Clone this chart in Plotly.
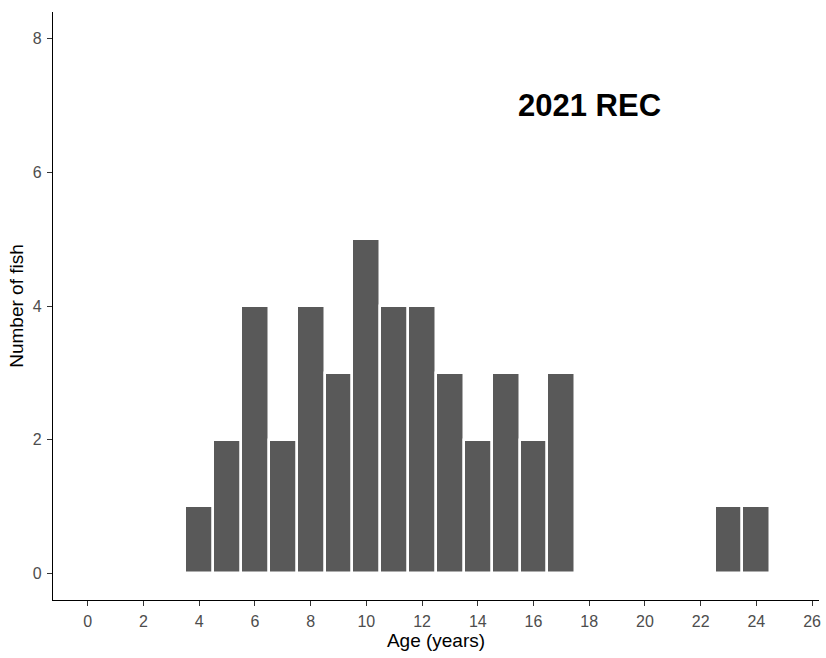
import plotly.graph_objects as go

# Age distribution of the 2021 recreational sample
ages = [4, 5, 6, 7, 8, 9, 10, 11, 12, 13, 14, 15, 16, 17, 23, 24]
counts = [1, 2, 4, 2, 4, 3, 5, 4, 4, 3, 2, 3, 2, 3, 1, 1]
x_ticks = list(range(0, 27, 2))
y_ticks = [0, 2, 4, 6, 8]
panel_label = "2021 REC"

FONT = "Liberation Sans, Arial"

fig = go.Figure(
    go.Bar(
        x=ages,
        y=counts,
        width=1,
        marker=dict(color="#595959", line=dict(color="white", width=2.5)),
        hoverinfo="x+y",
    )
)

axis_common = dict(
    showline=True,
    linecolor="black",
    linewidth=1.3,
    ticks="outside",
    ticklen=5,
    tickwidth=1.2,
    tickcolor="#333333",
    tickfont=dict(family=FONT, size=16, color="#4D4D4D"),
    showgrid=False,
    zeroline=False,
    mirror=False,
)

fig.update_layout(
    width=826,
    height=658,
    margin=dict(l=53, r=5, t=12, b=58),
    plot_bgcolor="white",
    paper_bgcolor="white",
    bargap=0,
    showlegend=False,
    xaxis=dict(
        axis_common,
        range=[-1.25, 26.25],
        tickvals=x_ticks,
        ticklabelstandoff=2,
        title=dict(text="Age (years)", standoff=4,
                   font=dict(family=FONT, size=19, color="black")),
    ),
    yaxis=dict(
        axis_common,
        range=[-0.4, 8.4],
        tickvals=y_ticks,
        ticklabelstandoff=2,
        title=dict(text="Number of fish", standoff=4,
                   font=dict(family=FONT, size=19, color="black")),
    ),
    annotations=[
        dict(
            x=18, y=7, xref="x", yref="y",
            text="<b>" + panel_label + "</b>",
            showarrow=False,
            font=dict(family=FONT, size=31, color="black"),
        )
    ],
)

fig.write_html("out.html")
